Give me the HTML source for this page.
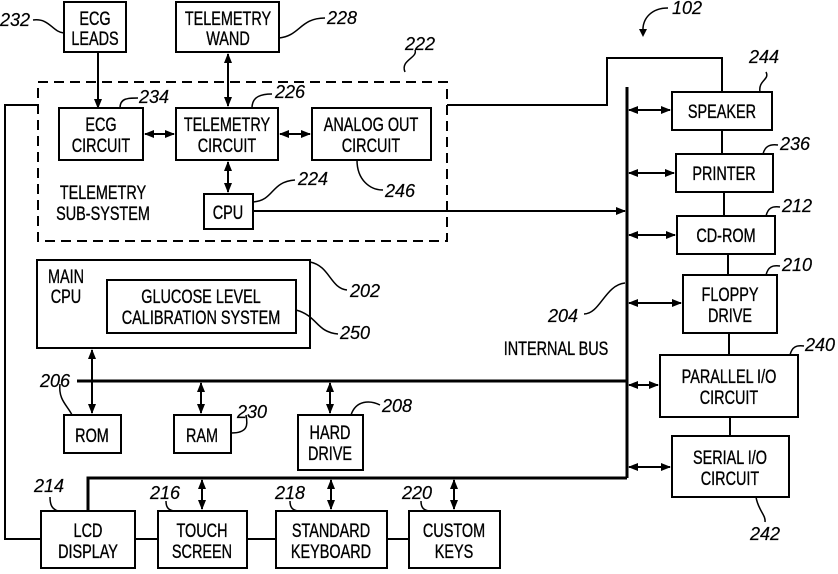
<!DOCTYPE html>
<html><head><meta charset="utf-8"><style>
html,body{margin:0;padding:0;background:#fff;}
svg{display:block;}
text{font-family:"Liberation Sans",sans-serif;font-size:19px;fill:#000;stroke:#000;stroke-width:0.35;text-anchor:middle;transform-box:fill-box;transform-origin:center;transform:scaleX(0.76);}
.n{font-style:italic;font-size:18px;text-anchor:start;transform:none;stroke-width:0.2;}
</style></head><body>
<svg width="838" height="574" viewBox="0 0 838 574" xmlns="http://www.w3.org/2000/svg">
<defs>
<marker id="a" viewBox="0 0 10 10" refX="9" refY="5" markerWidth="5" markerHeight="5" orient="auto-start-reverse"><path d="M0,1 L10,5 L0,9 z" fill="#000"/></marker>
</defs>
<g fill="none" stroke="#000" stroke-width="2">
<rect x="64" y="2" width="62" height="50"/>
<rect x="176" y="2" width="103" height="50"/>
<rect x="38" y="82" width="409" height="159" stroke-dasharray="10,6"/>
<rect x="59" y="108" width="84" height="52"/>
<rect x="176" y="108" width="102" height="52"/>
<rect x="312" y="108" width="119" height="52"/>
<rect x="204" y="194" width="49" height="35"/>
<rect x="672" y="92" width="100" height="38"/>
<rect x="676" y="154" width="97" height="38"/>
<rect x="677" y="216" width="98" height="38"/>
<rect x="683" y="275" width="94" height="58"/>
<rect x="660" y="355" width="138" height="62"/>
<rect x="672" y="436" width="117" height="61"/>
<rect x="37" y="260" width="273" height="88"/>
<rect x="107" y="280" width="189" height="53"/>
<rect x="64" y="415" width="57" height="38"/>
<rect x="174" y="415" width="57" height="38"/>
<rect x="298" y="415" width="65" height="55"/>
<rect x="41" y="511" width="94" height="57"/>
<rect x="158" y="511" width="89" height="57"/>
<rect x="276" y="511" width="111" height="57"/>
<rect x="409" y="511" width="91" height="57"/>
<line x1="98" y1="52" x2="98" y2="108" marker-end="url(#a)"/>
<line x1="228" y1="54" x2="228" y2="106" marker-start="url(#a)" marker-end="url(#a)"/>
<line x1="145" y1="134" x2="174" y2="134" marker-start="url(#a)" marker-end="url(#a)"/>
<line x1="280" y1="134" x2="310" y2="134" marker-start="url(#a)" marker-end="url(#a)"/>
<line x1="228" y1="162" x2="228" y2="192" marker-start="url(#a)" marker-end="url(#a)"/>
<polyline points="38,105 5,105 5,539 41,539"/>
<polyline points="447,105 607,105 607,58 722,58 722,92"/>
<line x1="253" y1="211" x2="625" y2="211" marker-end="url(#a)"/>
<line x1="627" y1="87" x2="627" y2="478" stroke-width="3"/>
<line x1="629" y1="110" x2="670" y2="110" marker-start="url(#a)" marker-end="url(#a)"/>
<line x1="629" y1="173" x2="674" y2="173" marker-start="url(#a)" marker-end="url(#a)"/>
<line x1="629" y1="235" x2="675" y2="235" marker-start="url(#a)" marker-end="url(#a)"/>
<line x1="629" y1="303" x2="681" y2="303" marker-start="url(#a)" marker-end="url(#a)"/>
<line x1="629" y1="385" x2="658" y2="385" marker-start="url(#a)" marker-end="url(#a)"/>
<line x1="629" y1="467" x2="670" y2="467" marker-start="url(#a)" marker-end="url(#a)"/>
<line x1="722" y1="130" x2="722" y2="154"/>
<line x1="724" y1="192" x2="724" y2="216"/>
<line x1="728" y1="254" x2="728" y2="275"/>
<line x1="729" y1="333" x2="729" y2="355"/>
<line x1="730" y1="417" x2="730" y2="436"/>
<line x1="77" y1="381" x2="627" y2="381" stroke-width="3"/>
<line x1="92" y1="350" x2="92" y2="413" marker-start="url(#a)" marker-end="url(#a)"/>
<line x1="201" y1="383" x2="201" y2="413" marker-start="url(#a)" marker-end="url(#a)"/>
<line x1="330" y1="383" x2="330" y2="413" marker-start="url(#a)" marker-end="url(#a)"/>
<polyline points="88,511 88,478 627,478" stroke-width="3"/>
<line x1="202" y1="480" x2="202" y2="509" marker-start="url(#a)" marker-end="url(#a)"/>
<line x1="331" y1="480" x2="331" y2="509" marker-start="url(#a)" marker-end="url(#a)"/>
<line x1="454" y1="480" x2="454" y2="509" marker-start="url(#a)" marker-end="url(#a)"/>
<line x1="135" y1="539" x2="158" y2="539"/>
<line x1="247" y1="539" x2="276" y2="539"/>
<line x1="387" y1="539" x2="409" y2="539"/>
<g stroke-width="1.5">
<path d="M33,20 C50,18 52,32 64,33"/>
<path d="M279,38 C300,36 300,18 325,18"/>
<path d="M405,72 C400,60 418,58 415,50"/>
<path d="M120,108 C120,98 128,98 138,98"/>
<path d="M252,108 C252,96 262,94 272,94"/>
<path d="M253,202 C275,200 270,182 295,180"/>
<path d="M357,160 C357,180 370,190 383,190"/>
<path d="M310,262 C330,266 330,288 347,290"/>
<path d="M296,310 C318,316 316,332 338,334"/>
<path d="M60,384 C58,400 68,406 72,415"/>
<path d="M231,433 C248,433 248,425 246,415"/>
<path d="M351,415 C356,400 370,400 380,405"/>
<path d="M584,314 C600,314 605,285 625,283"/>
<path d="M760,92 C758,80 770,80 766,72"/>
<path d="M763,154 C765,146 770,144 778,145"/>
<path d="M766,216 C768,208 772,206 780,207"/>
<path d="M766,275 C768,267 772,265 780,266"/>
<path d="M790,355 C792,347 796,345 804,346"/>
<path d="M756,497 C758,510 766,515 765,522"/>
<path d="M50,497 C50,505 52,509 58,511"/>
<path d="M166,501 C166,507 168,510 174,511"/>
<path d="M290,501 C290,507 292,510 298,511"/>
<path d="M421,501 C421,507 423,510 429,511"/>
<path d="M668,8 C652,8 642,18 643,32"/>
</g>
</g>
<path d="M639,29 L643,37 L647,29 z" fill="#000"/>
<text x="95" y="25">ECG</text><text x="95" y="45">LEADS</text>
<text x="228" y="25">TELEMETRY</text><text x="228" y="45">WAND</text>
<text x="101" y="131">ECG</text><text x="101" y="152">CIRCUIT</text>
<text x="227" y="131">TELEMETRY</text><text x="227" y="152">CIRCUIT</text>
<text x="371" y="131">ANALOG OUT</text><text x="371" y="152">CIRCUIT</text>
<text x="228" y="219">CPU</text>
<text x="103" y="199">TELEMETRY</text><text x="103" y="220">SUB-SYSTEM</text>
<text x="722" y="118">SPEAKER</text>
<text x="724" y="180">PRINTER</text>
<text x="726" y="242">CD-ROM</text>
<text x="730" y="301">FLOPPY</text><text x="730" y="322">DRIVE</text>
<text x="729" y="383">PARALLEL I/O</text><text x="729" y="404">CIRCUIT</text>
<text x="730" y="464">SERIAL I/O</text><text x="730" y="485">CIRCUIT</text>
<text x="66" y="283">MAIN</text><text x="66" y="303">CPU</text>
<text x="201" y="303">GLUCOSE LEVEL</text><text x="201" y="324">CALIBRATION SYSTEM</text>
<text x="556" y="355">INTERNAL BUS</text>
<text x="92" y="442">ROM</text>
<text x="202" y="442">RAM</text>
<text x="330" y="439">HARD</text><text x="330" y="460">DRIVE</text>
<text x="88" y="537">LCD</text><text x="88" y="558">DISPLAY</text>
<text x="202" y="537">TOUCH</text><text x="202" y="558">SCREEN</text>
<text x="331" y="537">STANDARD</text><text x="331" y="558">KEYBOARD</text>
<text x="454" y="537">CUSTOM</text><text x="454" y="558">KEYS</text>
<text class="n" x="0" y="26">232</text>
<text class="n" x="327" y="24">228</text>
<text class="n" x="405" y="50">222</text>
<text class="n" x="139" y="103">234</text>
<text class="n" x="275" y="98">226</text>
<text class="n" x="298" y="185">224</text>
<text class="n" x="385" y="197">246</text>
<text class="n" x="672" y="14">102</text>
<text class="n" x="749" y="63">244</text>
<text class="n" x="780" y="150">236</text>
<text class="n" x="782" y="212">212</text>
<text class="n" x="782" y="271">210</text>
<text class="n" x="805" y="351">240</text>
<text class="n" x="750" y="540">242</text>
<text class="n" x="350" y="297">202</text>
<text class="n" x="340" y="339">250</text>
<text class="n" x="548" y="322">204</text>
<text class="n" x="40" y="387">206</text>
<text class="n" x="237" y="418">230</text>
<text class="n" x="382" y="412">208</text>
<text class="n" x="34" y="492">214</text>
<text class="n" x="150" y="499">216</text>
<text class="n" x="275" y="499">218</text>
<text class="n" x="402" y="499">220</text>
</svg>
</body></html>
